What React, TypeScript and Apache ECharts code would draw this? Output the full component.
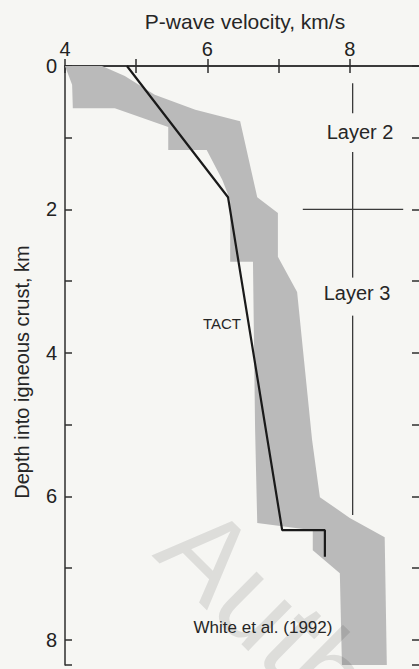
import React, { useEffect, useRef } from "react";
import * as echarts from "echarts";

// Shaded envelope (White et al., 1992): right edge top→bottom, then left edge bottom→top
const bandVelocity = [4.52, 4.84, 5.26, 5.83, 6.46, 6.70, 6.99, 6.99, 7.26, 7.47, 7.58, 8.00, 8.49, 8.52,
  7.89, 7.86, 7.48, 7.48, 6.70, 6.67, 6.64, 6.32, 6.32, 6.21, 5.99, 5.45, 5.45, 4.70, 4.11, 4.10, 4.0];
const bandDepth = [0, 0.14, 0.40, 0.61, 0.77, 1.83, 2.05, 2.66, 3.15, 5.21, 6.01, 6.30, 6.57, 8.35,
  8.35, 7.07, 6.75, 6.47, 6.37, 5.07, 2.73, 2.73, 1.87, 1.59, 1.17, 1.17, 0.85, 0.59, 0.59, 0.26, 0];

// TACT profile
const tactVelocity = [4.87, 6.29, 7.05, 7.65, 7.65];
const tactDepth = [0, 1.83, 6.47, 6.47, 6.84];

// Reference lines at 8 km/s and layer boundary at 2 km
const refVelocity = 8.04;
const refSegmentsDepth = [[0.24, 0.66], [1.2, 2.95], [3.48, 6.26]];
const boundaryDepth = 2.0;
const boundaryVelocity = [7.34, 8.75];

const xTicks = { min: 4, max: 9, interval: 1 };
const yTicks = { min: 0, max: 8.35, interval: 1 };

const FONT = "'Liberation Sans', Arial, Helvetica, sans-serif";
const AX = "#2e2e2e";

function txt(text: string, x: number, y: number, fontSize: number, extra: any = {}) {
  return {
    type: "text",
    x,
    y,
    z: 100,
    ...extra,
    style: {
      text,
      fontSize,
      fontFamily: FONT,
      fill: extra.fill || "#262626",
      align: "center",
      verticalAlign: "middle",
      textAlign: "center",
      textVerticalAlign: "middle",
      ...(extra.style || {}),
    },
  };
}

export default function App() {
  const ref = useRef<HTMLDivElement>(null);
  useEffect(() => {
    if (!ref.current) return;
    const chart = echarts.init(ref.current, null, { renderer: "svg" });
    const evenLabel = (v: number) =>
      Math.abs(v - Math.round(v)) < 1e-9 && Math.round(v) % 2 === 0 ? String(Math.round(v)) : "";
    const axisCommon = {
      type: "value",
      axisLine: { show: true, lineStyle: { color: AX, width: 1.5 } },
      axisTick: { show: true, inside: true, length: 7, lineStyle: { color: AX, width: 1.5 } },
      splitLine: { show: false },
    };
    const refSeries = refSegmentsDepth.map((seg) => ({
      type: "line",
      data: seg.map((d) => [refVelocity, d]),
      symbol: "none",
      lineStyle: { color: "#3a3a3a", width: 1.3 },
      z: 3,
    }));
    chart.setOption({
      animation: false,
      backgroundColor: "#f6f6f3",
      grid: { left: 65, top: 66, right: 9, bottom: 4 },
      xAxis: [
        {
          ...axisCommon,
          position: "top",
          ...xTicks,
          axisLabel: { formatter: evenLabel, fontSize: 20, color: "#222", margin: 7, fontFamily: FONT },
        },
        {
          ...axisCommon,
          position: "bottom",
          ...xTicks,
          axisLabel: { show: false },
        },
      ],
      yAxis: [
        {
          ...axisCommon,
          position: "left",
          inverse: true,
          ...yTicks,
          axisLabel: { formatter: evenLabel, fontSize: 20, color: "#222", margin: 8, fontFamily: FONT },
        },
        {
          ...axisCommon,
          position: "right",
          inverse: true,
          ...yTicks,
          axisTick: { show: true, inside: true, length: 9, lineStyle: { color: AX, width: 1.5 } },
          axisLabel: { show: false },
        },
      ],
      series: [
        {
          type: "custom",
          xAxisIndex: 0,
          yAxisIndex: 0,
          clip: true,
          data: [[bandVelocity[0], bandDepth[0]]],
          renderItem: (_p: any, api: any) => ({
            type: "polygon",
            shape: { points: bandVelocity.map((v, i) => api.coord([v, bandDepth[i]])) },
            style: { fill: "#bababa", stroke: "none" },
          }),
          z: 1,
        },
        ...refSeries,
        {
          type: "line",
          data: boundaryVelocity.map((v) => [v, boundaryDepth]),
          symbol: "none",
          lineStyle: { color: "#3a3a3a", width: 1.3 },
          z: 3,
        },
        {
          type: "line",
          data: tactVelocity.map((v, i) => [v, tactDepth[i]]),
          symbol: "none",
          lineStyle: { color: "#1a1a1a", width: 2.2 },
          z: 5,
        },
      ],
      graphic: [
        txt("Auth", 180, 526, 118, {
          rotation: -0.78,
          z: 50,
          style: { fill: "rgba(0,0,0,0.1)", align: "left", textAlign: "left" },
        }),
        txt("P-wave velocity, km/s", 245, 21, 21),
        txt("Depth into igneous crust, km", 22, 372, 20, { rotation: Math.PI / 2 }),
        txt("Layer 2", 360, 132, 20),
        txt("Layer 3", 357, 293, 20),
        txt("TACT", 222, 323, 15),
        txt("White et al. (1992)", 263, 627, 17),
      ],
    });
    return () => chart.dispose();
  }, []);
  return (
    <div style={{ position: "fixed", left: 0, top: 0, width: 419, height: 669, overflow: "hidden", background: "#f6f6f3" }}>
      <div ref={ref} style={{ width: 430, height: 669 }} />
    </div>
  );
}
